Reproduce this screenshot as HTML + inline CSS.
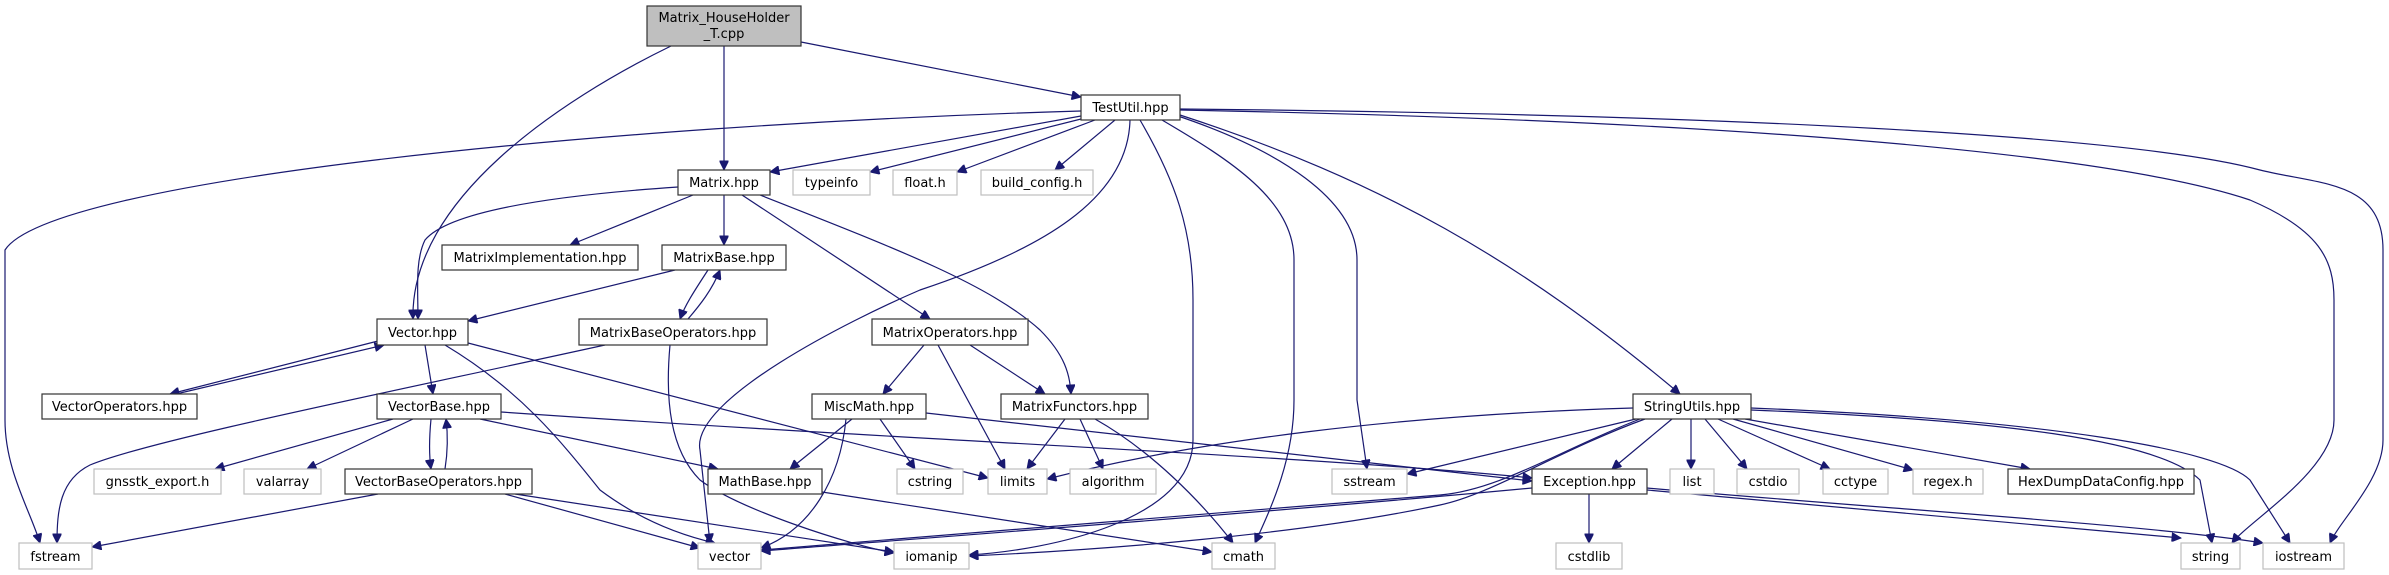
<!DOCTYPE html>
<html><head><meta charset="utf-8"><style>
html,body{margin:0;padding:0;background:#fff;}
svg{display:block;}
text{font-family:"DejaVu Sans","Liberation Sans",sans-serif;font-size:13px;fill:#000;}
.e{fill:none;stroke:#191970;stroke-width:1.2;marker-end:url(#a);}
.d{fill:#fff;stroke:#333;stroke-width:1.2;}
.s{fill:#fff;stroke:#bfbfbf;stroke-width:1.2;}
</style></head><body>
<svg width="2389" height="575" viewBox="0 0 2389 575" xmlns="http://www.w3.org/2000/svg">
<defs><marker id="a" viewBox="0 0 10 10" refX="10" refY="5" markerWidth="11" markerHeight="9" markerUnits="userSpaceOnUse" orient="auto"><path d="M0,0 L10,5 L0,10 z" fill="#191970" stroke="#191970"/></marker></defs>
<g>
<path class="e" d="M724,46 L724,170"/>
<path class="e" d="M671,46 C560,100 410,200 413,319"/>
<path class="e" d="M801,42 L1081,97"/>
<path class="e" d="M1081,111 C600,125 50,180 5,250 L5,420 C5,470 30,510 40,543"/>
<path class="e" d="M1081,116 L770,172"/>
<path class="e" d="M1085,118 L870,172"/>
<path class="e" d="M1095,120 L957,172"/>
<path class="e" d="M1115,120 L1055,170"/>
<path class="e" d="M1130,120 C1128,200 1040,250 920,290 C850,320 690,400 700,450 L710,543"/>
<path class="e" d="M1140,120 C1175,180 1193,230 1193,300 L1193,440 C1193,520 1050,550 969,555"/>
<path class="e" d="M1162,120 C1230,160 1294,200 1294,260 L1294,400 C1294,460 1270,510 1255,543"/>
<path class="e" d="M1175,115 C1280,150 1357,200 1357,260 L1357,400 L1367,469"/>
<path class="e" d="M1180,115 C1380,180 1520,260 1680,394"/>
<path class="e" d="M1180,110 C1700,120 2100,150 2250,200 C2320,230 2334,260 2334,300 L2334,420 C2334,470 2250,520 2232,543"/>
<path class="e" d="M1180,109 C1800,115 2150,140 2260,170 C2320,185 2383,180 2383,250 L2383,440 C2383,480 2340,520 2330,543"/>
<path class="e" d="M678,187 C560,195 450,210 425,240 C415,260 418,290 418,319"/>
<path class="e" d="M693,195 L570,245"/>
<path class="e" d="M724,195 L724,245"/>
<path class="e" d="M742,195 L930,319"/>
<path class="e" d="M760,195 C900,250 990,285 1040,330 C1065,355 1070,375 1071,394"/>
<path class="e" d="M675,270 L468,321"/>
<path class="e" d="M708,270 C695,290 685,305 680,319"/>
<path class="e" d="M688,319 C700,305 712,290 720,270"/>
<path class="e" d="M378,341 L170,394"/>
<path class="e" d="M176,394 L384,345"/>
<path class="e" d="M425,345 L433,394"/>
<path class="e" d="M445,345 C520,390 560,440 600,490 C640,520 680,535 715,543"/>
<path class="e" d="M468,343 L988,478"/>
<path class="e" d="M605,345 C400,390 150,440 90,465 C60,480 57,510 57,543"/>
<path class="e" d="M670,345 C665,400 670,450 700,480 C740,510 850,545 894,553"/>
<path class="e" d="M393,419 L215,469"/>
<path class="e" d="M413,419 L307,469"/>
<path class="e" d="M431,419 C429,440 429,455 431,469"/>
<path class="e" d="M445,469 C448,450 448,435 446,419"/>
<path class="e" d="M501,412 C900,440 1300,455 1532,478"/>
<path class="e" d="M480,419 L718,469"/>
<path class="e" d="M378,494 L92,547"/>
<path class="e" d="M505,494 L700,548"/>
<path class="e" d="M515,494 L894,552"/>
<path class="e" d="M924,345 L883,394"/>
<path class="e" d="M938,345 L1005,469"/>
<path class="e" d="M970,345 L1045,394"/>
<path class="e" d="M852,419 L790,469"/>
<path class="e" d="M846,419 C840,480 810,530 761,548"/>
<path class="e" d="M880,419 L915,469"/>
<path class="e" d="M926,413 C1200,445 1400,465 1532,481"/>
<path class="e" d="M1065,419 L1027,469"/>
<path class="e" d="M1080,419 L1103,469"/>
<path class="e" d="M1095,419 C1150,450 1200,500 1233,543"/>
<path class="e" d="M822,492 L1212,552"/>
<path class="e" d="M1633,408 C1400,415 1200,440 1047,479"/>
<path class="e" d="M1640,418 L1407,474"/>
<path class="e" d="M1640,419 C1560,450 1500,490 1440,495 L761,550"/>
<path class="e" d="M1645,419 C1560,450 1490,495 1440,505 C1300,535 1100,550 969,556"/>
<path class="e" d="M1672,419 L1612,469"/>
<path class="e" d="M1691,419 L1691,469"/>
<path class="e" d="M1705,419 L1747,469"/>
<path class="e" d="M1718,419 L1830,469"/>
<path class="e" d="M1733,419 L1913,470"/>
<path class="e" d="M1745,419 L2030,469"/>
<path class="e" d="M1751,410 C2000,420 2160,440 2200,480 L2212,543"/>
<path class="e" d="M1751,408 C2050,420 2220,450 2250,480 L2290,543"/>
<path class="e" d="M1532,488 C1300,510 900,540 761,551"/>
<path class="e" d="M1589,494 L1589,543"/>
<path class="e" d="M1647,490 L2181,538"/>
<path class="e" d="M1647,488 C1900,510 2150,525 2263,543"/>
</g>
<g>
<rect x="647" y="6" width="154" height="40" fill="#bfbfbf" stroke="#333" stroke-width="1.2"/>
<text x="724" y="22" text-anchor="middle">Matrix_HouseHolder</text>
<text x="724" y="38" text-anchor="middle">_T.cpp</text>
<rect class="d" x="1081" y="95" width="99" height="25"/><text x="1130.5" y="112" text-anchor="middle">TestUtil.hpp</text>
<rect class="d" x="678" y="170" width="92" height="25"/><text x="724" y="187" text-anchor="middle">Matrix.hpp</text>
<rect class="s" x="793" y="170" width="77" height="25"/><text x="831.5" y="187" text-anchor="middle">typeinfo</text>
<rect class="s" x="893" y="170" width="64" height="25"/><text x="925" y="187" text-anchor="middle">float.h</text>
<rect class="s" x="981" y="170" width="112" height="25"/><text x="1037" y="187" text-anchor="middle">build_config.h</text>
<rect class="d" x="442" y="245" width="196" height="25"/><text x="540" y="262" text-anchor="middle">MatrixImplementation.hpp</text>
<rect class="d" x="662" y="245" width="124" height="25"/><text x="724" y="262" text-anchor="middle">MatrixBase.hpp</text>
<rect class="d" x="377" y="319" width="91" height="26"/><text x="422.5" y="337" text-anchor="middle">Vector.hpp</text>
<rect class="d" x="579" y="319" width="188" height="26"/><text x="673" y="337" text-anchor="middle">MatrixBaseOperators.hpp</text>
<rect class="d" x="872" y="319" width="156" height="26"/><text x="950" y="337" text-anchor="middle">MatrixOperators.hpp</text>
<rect class="d" x="42" y="394" width="155" height="25"/><text x="119.5" y="411" text-anchor="middle">VectorOperators.hpp</text>
<rect class="d" x="377" y="394" width="124" height="25"/><text x="439" y="411" text-anchor="middle">VectorBase.hpp</text>
<rect class="d" x="812" y="394" width="114" height="25"/><text x="869" y="411" text-anchor="middle">MiscMath.hpp</text>
<rect class="d" x="1001" y="394" width="147" height="25"/><text x="1074.5" y="411" text-anchor="middle">MatrixFunctors.hpp</text>
<rect class="d" x="1633" y="394" width="118" height="25"/><text x="1692" y="411" text-anchor="middle">StringUtils.hpp</text>
<rect class="s" x="94" y="469" width="127" height="25"/><text x="157.5" y="486" text-anchor="middle">gnsstk_export.h</text>
<rect class="s" x="244" y="469" width="77" height="25"/><text x="282.5" y="486" text-anchor="middle">valarray</text>
<rect class="d" x="345" y="469" width="187" height="25"/><text x="438.5" y="486" text-anchor="middle">VectorBaseOperators.hpp</text>
<rect class="d" x="708" y="469" width="114" height="25"/><text x="765" y="486" text-anchor="middle">MathBase.hpp</text>
<rect class="s" x="897" y="469" width="66" height="25"/><text x="930" y="486" text-anchor="middle">cstring</text>
<rect class="s" x="988" y="469" width="59" height="25"/><text x="1017.5" y="486" text-anchor="middle">limits</text>
<rect class="s" x="1070" y="469" width="86" height="25"/><text x="1113" y="486" text-anchor="middle">algorithm</text>
<rect class="s" x="1332" y="469" width="75" height="25"/><text x="1369.5" y="486" text-anchor="middle">sstream</text>
<rect class="d" x="1532" y="469" width="115" height="25"/><text x="1589.5" y="486" text-anchor="middle">Exception.hpp</text>
<rect class="s" x="1670" y="469" width="44" height="25"/><text x="1692" y="486" text-anchor="middle">list</text>
<rect class="s" x="1737" y="469" width="62" height="25"/><text x="1768" y="486" text-anchor="middle">cstdio</text>
<rect class="s" x="1823" y="469" width="65" height="25"/><text x="1855.5" y="486" text-anchor="middle">cctype</text>
<rect class="s" x="1913" y="469" width="70" height="25"/><text x="1948" y="486" text-anchor="middle">regex.h</text>
<rect class="d" x="2008" y="469" width="186" height="25"/><text x="2101" y="486" text-anchor="middle">HexDumpDataConfig.hpp</text>
<rect class="s" x="19" y="543" width="73" height="26"/><text x="55.5" y="561" text-anchor="middle">fstream</text>
<rect class="s" x="698" y="543" width="63" height="26"/><text x="729.5" y="561" text-anchor="middle">vector</text>
<rect class="s" x="894" y="543" width="75" height="26"/><text x="931.5" y="561" text-anchor="middle">iomanip</text>
<rect class="s" x="1212" y="543" width="63" height="26"/><text x="1243.5" y="561" text-anchor="middle">cmath</text>
<rect class="s" x="1556" y="543" width="66" height="26"/><text x="1589" y="561" text-anchor="middle">cstdlib</text>
<rect class="s" x="2181" y="543" width="59" height="26"/><text x="2210.5" y="561" text-anchor="middle">string</text>
<rect class="s" x="2263" y="543" width="81" height="26"/><text x="2303.5" y="561" text-anchor="middle">iostream</text>
</g>
</svg>
</body></html>
